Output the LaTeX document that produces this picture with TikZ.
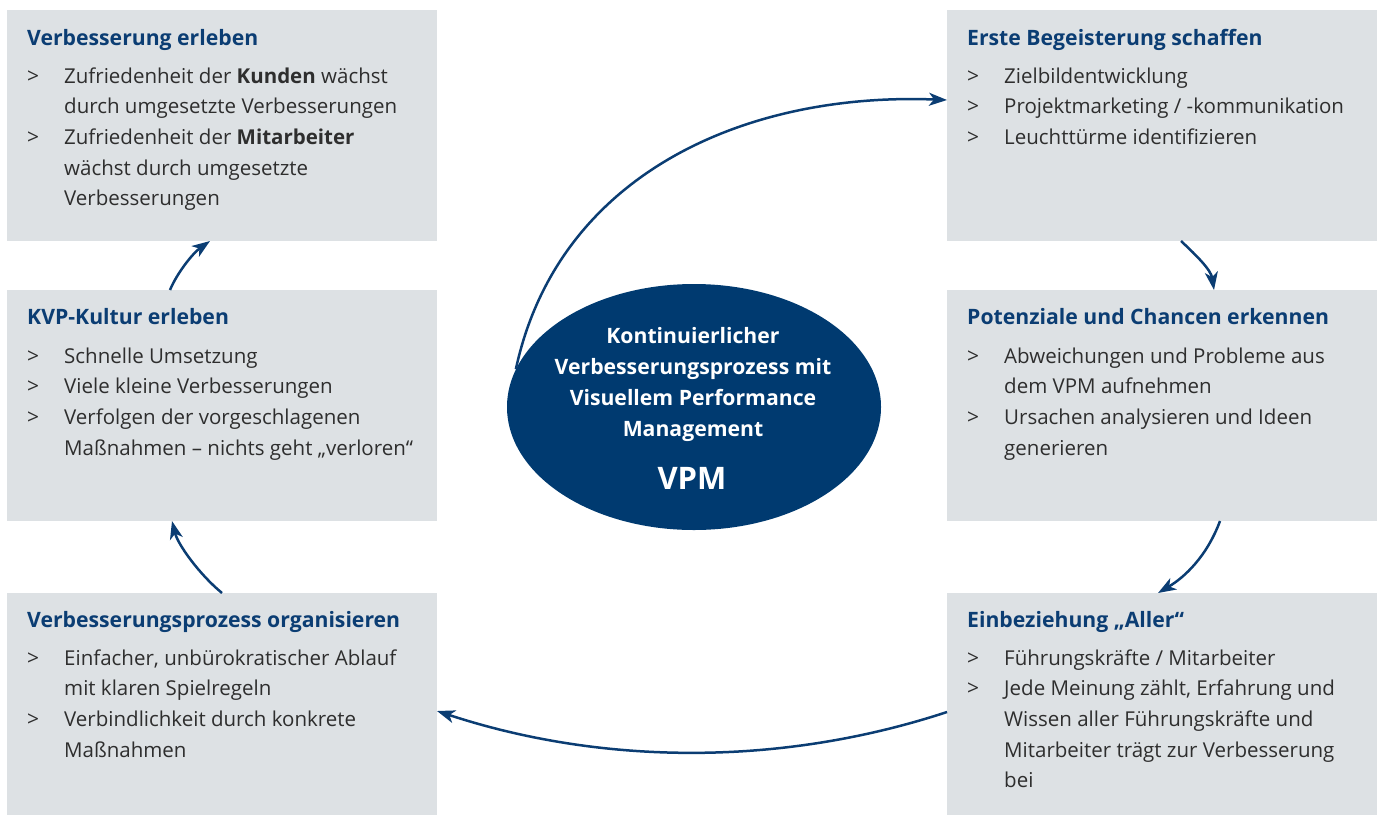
\documentclass[tikz,border=0pt]{standalone}
\usepackage{fontspec}
\setmainfont{Open Sans}
\usetikzlibrary{shapes.geometric,arrows.meta,calc}

\definecolor{vblue}{HTML}{0B3D73}
\definecolor{efill}{HTML}{003A70}
\definecolor{boxgray}{HTML}{DDE1E4}
\definecolor{txt}{HTML}{2E2E2E}

% bullet line, continuation line, and a block of lines whose baseline is the first line
\newcommand\itm[1]{\makebox[37pt][l]{\fontsize{21}{24}\selectfont>}#1\par}
\newcommand\cnt[1]{\hspace*{37pt}#1\par}
\newcommand\lines[1]{\vtop{\hsize=420pt\parindent=0pt\baselineskip=30.7pt #1}}

\tikzset{
  panel/.style={fill=boxgray, anchor=north west, inner sep=0pt, outer sep=0pt,
                minimum width=430pt},
  head/.style={anchor=base west, inner sep=0pt, text=vblue,
               font=\fontsize{21.2}{24}\selectfont\bfseries},
  items/.style={anchor=base west, inner sep=0pt, text=txt,
                font=\fontsize{20.5}{30.7}\selectfont},
  flow/.style={draw=vblue, line width=2.5pt,
               -{Stealth[length=18pt,width=13pt,inset=5pt]}},
}

\begin{document}
\begin{tikzpicture}[x=1pt,y=-1pt]
\useasboundingbox (0,0) rectangle (1380,817);

% panels
\node[panel, minimum height=231pt] (tl) at (7,10) {};
\node[panel, minimum height=231pt] (tr) at (947,10) {};
\node[panel, minimum height=231pt] (ml) at (7,290) {};
\node[panel, minimum height=231pt] (mr) at (947,290) {};
\node[panel, minimum height=222pt] (bl) at (7,593) {};
\node[panel, minimum height=222pt] (br) at (947,593) {};

% centre ellipse
\node[ellipse, fill=efill, minimum width=374pt, minimum height=246pt, inner sep=0pt]
  (vpm) at (694,407) {};
\node[anchor=base, inner sep=0pt, text=white,
      font=\fontsize{21.2}{31}\selectfont\bfseries] (vpmtext) at (693,343)
  {\vtop{\hsize=400pt\parindent=0pt\centering\baselineskip=31pt
   Kontinuierlicher\par Verbesserungsprozess mit\par Visuellem Performance\par Management\par}};
\node[anchor=base, inner sep=0pt, text=white,
      font=\fontsize{31}{34}\selectfont\bfseries] (vpmlabel) at (692,489) {VPM};

% panel texts
\node[head] (tlh) at ($(tl.north west)+(20,35)$) {Verbesserung erleben};
\node[items] (tli) at ($(tl.north west)+(20,73)$) {\lines{%
  \itm{Zufriedenheit der \textbf{Kunden} wächst}
  \cnt{durch umgesetzte Verbesserungen}
  \itm{Zufriedenheit der \textbf{Mitarbeiter}}
  \cnt{wächst durch umgesetzte}
  \cnt{Verbesserungen}}};

\node[head] (trh) at ($(tr.north west)+(20,35)$) {Erste Begeisterung schaffen};
\node[items] (tri) at ($(tr.north west)+(20,73)$) {\lines{%
  \itm{Zielbildentwicklung}
  \itm{Projektmarketing / -kommunikation}
  \itm{Leuchttürme identifizieren}}};

\node[head] (mlh) at ($(ml.north west)+(20,34)$) {KVP-Kultur erleben};
\node[items] (mli) at ($(ml.north west)+(20,73)$) {\lines{%
  \itm{Schnelle Umsetzung}
  \itm{Viele kleine Verbesserungen}
  \itm{Verfolgen der vorgeschlagenen}
  \cnt{Maßnahmen – nichts geht „verloren“}}};

\node[head] (mrh) at ($(mr.north west)+(20,34)$) {Potenziale und Chancen erkennen};
\node[items] (mri) at ($(mr.north west)+(20,73)$) {\lines{%
  \itm{Abweichungen und Probleme aus}
  \cnt{dem VPM aufnehmen}
  \itm{Ursachen analysieren und Ideen}
  \cnt{generieren}}};

\node[head] (blh) at ($(bl.north west)+(20,34)$) {Verbesserungsprozess organisieren};
\node[items] (bli) at ($(bl.north west)+(20,72)$) {\lines{%
  \itm{Einfacher, unbürokratischer Ablauf}
  \cnt{mit klaren Spielregeln}
  \itm{Verbindlichkeit durch konkrete}
  \cnt{Maßnahmen}}};

\node[head] (brh) at ($(br.north west)+(20,34)$) {Einbeziehung „Aller“};
\node[items] (bri) at ($(br.north west)+(20,72)$) {\lines{%
  \itm{Führungskräfte / Mitarbeiter}
  \itm{Jede Meinung zählt, Erfahrung und}
  \cnt{Wissen aller Führungskräfte und}
  \cnt{Mitarbeiter trägt zur Verbesserung}
  \cnt{bei}}};

% cycle connectors
\draw[flow] (vpm.168) .. controls +(42,-195) and +(-202,-8) .. ($(tr.north west)+(0,90)$);
\draw[flow] ($(tr.south west)+(234,0)$) .. controls +(16,15) and +(-3,-20) .. ($(mr.north west)+(267,0)$);
\draw[flow] ($(mr.south west)+(273,0)$) .. controls +(-13,35) and +(27,-16) .. ($(br.north west)+(211,0)$);
\draw[flow] ($(br.north west)+(0,119)$) .. controls +(-167,55) and +(164,54) .. ($(bl.north east)+(0,118)$);
\draw[flow] ($(bl.north west)+(215,0)$) .. controls +(-22,-18) and +(6,24) .. ($(ml.south west)+(165,0)$);
\draw[flow] ($(ml.north west)+(163,0)$) .. controls +(7,-17) and +(-17,12) .. ($(tl.south west)+(203,0)$);
\end{tikzpicture}
\end{document}
